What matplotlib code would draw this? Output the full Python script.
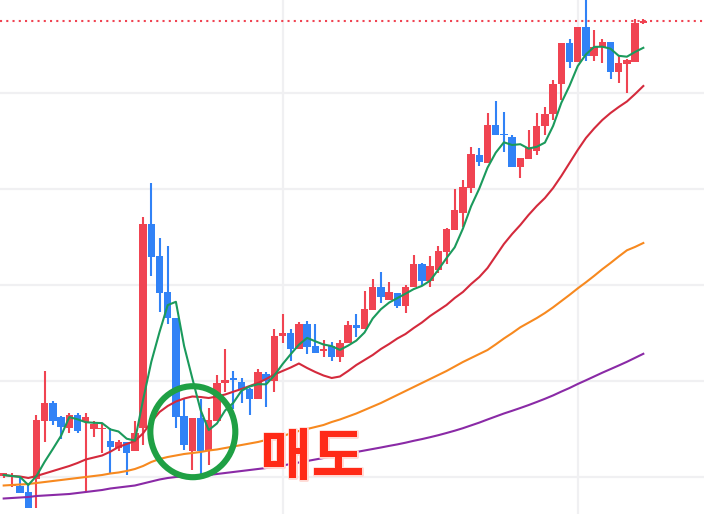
import numpy as np
import matplotlib
matplotlib.use("Agg")
import matplotlib.pyplot as plt
from matplotlib.patches import Ellipse
import matplotlib.patheffects as pe

plt.rcParams['font.family'] = ['Noto Sans CJK KR', 'DejaVu Sans']

# ---- data (price units) ----
opens = [97, 86.7, 87, 80.7, 93.7, 152, 170.3, 156.3, 144.7, 158,
         151.3, 143.7, 143.7, 132, 124.7, 131.3, 122.3, 144.7, 349, 317,
         281, 254.7, 157, 122.3, 154.7, 122.3, 152.3, 189.7, 194.7, 191.3,
         183.7, 173.7, 199, 192.3, 237, 239.7, 223.7, 249, 227, 221.7,
         227, 216.3, 229.7, 248, 244, 263, 286, 273, 280, 267,
         285.7, 309, 292.3, 303, 321.3, 343, 360.3, 384.7, 418, 410.3,
         448, 439, 436.3, 406.3, 413.7, 422.3, 447, 459, 489, 529.7,
         511.3, 545.7, 517.3, 525.7, 530.7, 501.3, 508.7, 511.3, 550.3]
highs = [100.3, 99.7, 95.7, 89, 158, 202, 172.3, 157, 160.3, 159.7,
         160.3, 152.3, 149, 144.7, 133, 131.3, 152.3, 355.7, 389.7, 334.7,
         327, 254.7, 173.7, 155, 173.7, 164.7, 198, 223.7, 202, 195.3,
         185, 204.3, 201, 243.7, 259, 243.7, 251.3, 252, 249, 233,
         231, 233, 252, 259, 282, 294, 301, 291, 280, 287.7,
         318, 310, 317, 327, 345, 384, 393, 425.7, 424.7, 459.7,
         472.3, 461, 438, 414.7, 443, 459.7, 466.3, 493, 530.3, 534,
         546, 580, 543, 534, 530.7, 517.3, 514, 553.7, 553.7]
lows = [94.7, 86.3, 80.3, 64.7, 65.3, 131.3, 148, 133.7, 140.3, 140.3,
        82, 136.3, 120.3, 99.7, 122, 98, 122.3, 128, 297, 261.3,
        249, 144.7, 123, 103, 98, 108, 152.3, 181.3, 163.7, 170.3,
        158, 173.7, 166.3, 181.3, 230.3, 212.3, 223.7, 218.7, 219.7, 216.3,
        212.3, 211.3, 229.7, 236.3, 244, 263, 270.3, 273, 265.3, 260.3,
        285.7, 287, 285.7, 299.7, 309, 343, 346.3, 380.3, 407, 410.3,
        438, 421.3, 405.7, 394.7, 413.7, 417.7, 438, 453, 473, 505.3,
        511, 512.3, 512.3, 510.3, 494, 489.7, 480.3, 511.3, 549]
closes = [99.7, 88, 80.3, 64.7, 153, 170.3, 152, 146.3, 158, 142,
          155.7, 149, 145, 126.3, 131.3, 119.7, 139.7, 349, 316.3, 279.7,
          254.7, 156.3, 128, 154.7, 122.3, 153, 189.7, 193, 193, 183,
          173.7, 201.3, 192.3, 237, 239.7, 223.7, 249, 226.3, 219.7, 223.7,
          215.7, 230, 248, 244.7, 264, 286, 276.3, 281, 267, 286,
          309, 292.3, 307, 322.3, 344, 363, 385.7, 419, 410.7, 448,
          438, 437.7, 405.7, 414.7, 425.7, 447, 459, 489, 529.7, 511.3,
          545.7, 517.3, 526.3, 530.7, 501.3, 510.3, 513, 550.3, 552]

ma5 = [98, 97, 96, 88, 97.1, 111.3, 124.1, 137.3, 155.9, 153.7,
       150.8, 150.2, 149.9, 143.6, 141.5, 134.3, 132.4, 173.2, 211.2, 240.9,
       267.9, 271.2, 227, 194.7, 163.2, 142.9, 149.5, 162.5, 170.2, 182.3,
       186.5, 188.8, 188.7, 197.5, 208.8, 218.8, 228.3, 235.1, 231.7, 228.5,
       226.9, 223.1, 227.4, 232.4, 240.5, 254.5, 263.8, 270.4, 274.9, 279.3,
       283.9, 287.1, 292.3, 303.3, 314.9, 325.7, 344.4, 366.8, 384.5, 405.3,
       420.3, 430.7, 428, 428.8, 424.4, 426.2, 430.4, 447.1, 470.1, 487.2,
       506.9, 518.6, 526.1, 526.3, 524.3, 517.2, 516.3, 521.1, 525.2]
ma20 = [98, 97, 96.5, 95, 97, 99.5, 102, 104.5, 107, 110,
        113.5, 115.5, 117.5, 121.3, 126, 129, 132, 139.7, 151, 161,
        167, 171.5, 174.5, 176.5, 176, 175, 176.5, 178.5, 181.3, 184,
        187, 190, 194, 198.5, 202, 205.5, 209.5, 205, 201, 197.5,
        195, 196.5, 202, 208, 213, 218, 224, 229, 234.5, 239,
        245, 250.5, 257, 262.5, 268, 275, 281, 289, 296, 305,
        317, 329, 339, 348, 358, 367, 375, 385, 397, 410,
        423, 435, 444.5, 453, 460, 466, 471.5, 479, 487]
ma60 = [87.5, 88, 88.5, 89, 90, 91, 92, 93, 94, 95,
        96, 97, 98, 99.5, 100.5, 102, 104, 107, 111, 114,
        116, 117.5, 119, 120, 121, 122.5, 123.5, 125, 126.5, 128,
        129.5, 131, 133, 134.5, 137, 139.5, 142, 144, 146, 148,
        151, 153.5, 156.5, 159.5, 163, 166.5, 170, 174, 178, 182,
        186, 190, 194, 198, 202, 206.5, 211, 215, 219, 223,
        228.6, 234.5, 239.9, 245.7, 250.3, 254.9, 260, 265.7, 271.9, 278.1,
        284.6, 290.7, 297.1, 303.8, 310, 316.5, 322.7, 326.1, 330]
ma120 = [74.5, 75, 75.5, 76, 77, 77.5, 78, 78.5, 79, 80,
         81, 82, 83, 84.5, 85.5, 86.5, 87.5, 89.5, 91.5, 93.5,
         95, 96, 96.5, 97, 97.5, 98, 99, 100, 101, 102,
         103, 104, 105, 106, 107.5, 109, 110.5, 112, 113.5, 115,
         116.5, 118, 119.5, 121, 122.5, 124, 125.5, 127.1, 128.6, 130.3,
         132.2, 133.9, 135.8, 137.8, 140, 142.3, 144.8, 147.6, 150.4, 153.5,
         156.5, 159.5, 162.2, 165, 167.9, 171, 174.2, 177.6, 181.4, 185,
         189, 192.7, 196.5, 200.3, 203.9, 207.5, 211.2, 215.2, 219.2]

grid_prices = [96, 192, 288, 384, 480]
grid_candles = [34, 70]
signal_label = "매도"

UP = '#f04452'
DOWN = '#3182f6'

fig = plt.figure(figsize=(7.04, 5.14), dpi=100)
ax = fig.add_axes([0, 0, 1, 1])
ax.set_facecolor('white')

x = np.arange(len(closes))
o = np.array(opens); c = np.array(closes)
h = np.array(highs); l = np.array(lows)
cols = [UP if cc >= oo else DOWN for oo, cc in zip(o, c)]

ax.vlines(x, l, h, colors=cols, linewidth=1.5, zorder=2)
bottoms = np.minimum(o, c)
heights = np.maximum(np.abs(c - o), 1.8)
ax.bar(x, heights, bottom=bottoms, width=0.9, color=cols, linewidth=0, zorder=3)

ax.plot(x, ma120, color='#8a2aa6', lw=1.5, zorder=4)
ax.plot(x, ma60, color='#f7891f', lw=1.5, zorder=4)
ax.plot(x, ma20, color='#d42a3c', lw=1.5, zorder=4)
ax.plot(x, ma5, color='#1b9a5c', lw=1.5, zorder=4)

ax.axhline(closes[-1], color=UP, lw=1.5, linestyle=(0, (1, 2)), zorder=1)

ax.set_xlim(-0.451, 85.4)
ax.set_ylim(59, 573)
ax.set_yticks(grid_prices)
ax.set_xticks(grid_candles)
ax.grid(True, color='#f0f0f2', linewidth=1.6, zorder=0)
ax.set_axisbelow(True)
ax.tick_params(length=0, labelleft=False, labelbottom=False)
for s in ax.spines.values():
    s.set_visible(False)

ell = Ellipse((0.2739, 0.1601), 0.1207, 0.177, transform=ax.transAxes,
              fill=False, edgecolor='#1fa044', linewidth=4.4, zorder=6)
ax.add_patch(ell)

ax.text(0.369, 0.108, signal_label, transform=ax.transAxes, ha='left', va='center',
        fontsize=41, fontweight='bold', color='#ff2a17', zorder=7,
        path_effects=[pe.withStroke(linewidth=2, foreground='#ffd9d4')])

fig.savefig('out.png', dpi=100)
